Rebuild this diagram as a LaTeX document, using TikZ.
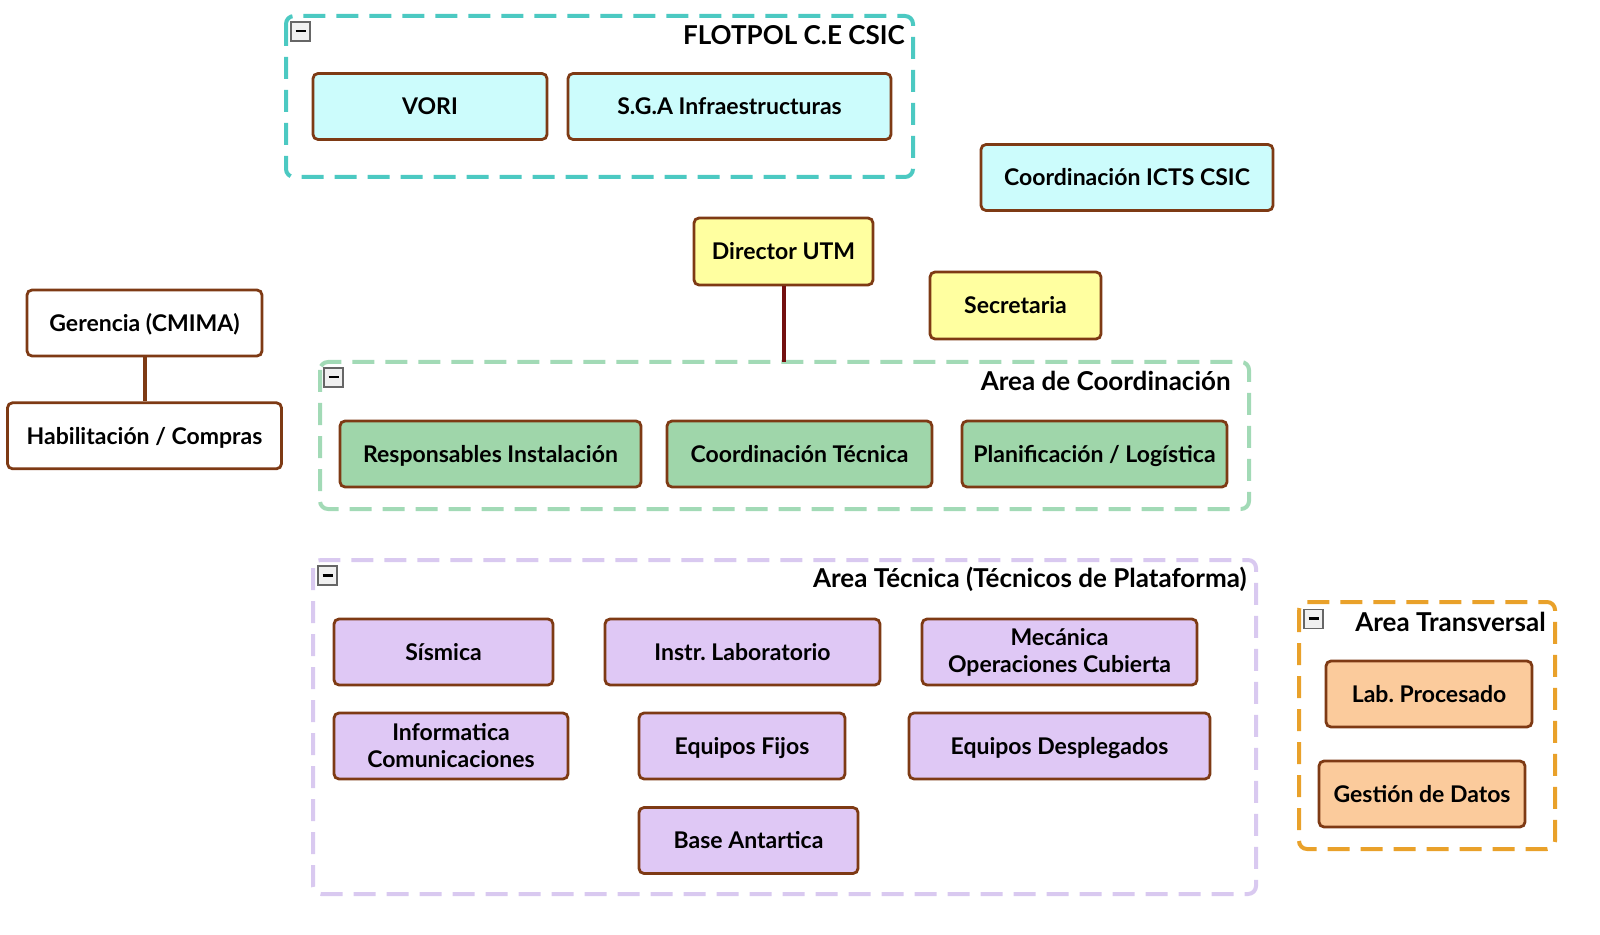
\documentclass[tikz,border=0pt]{standalone}
\usepackage{fontspec}
\setmainfont{Lato}
\frenchspacing
\usetikzlibrary{positioning}

\definecolor{borde}{HTML}{7E3A14}
\definecolor{cian}{HTML}{CCFCFC}
\definecolor{amarillo}{HTML}{FFFFA0}
\definecolor{verde}{HTML}{9FD6AA}
\definecolor{lila}{HTML}{DFC8F5}
\definecolor{naranja}{HTML}{FBCB9C}
\definecolor{marcoteal}{HTML}{4CC9C2}
\definecolor{marcoverde}{HTML}{A2DAB6}
\definecolor{marcolila}{HTML}{D9C9F0}
\definecolor{marconaranja}{HTML}{E9A12A}
\definecolor{lineadir}{HTML}{731010}

\tikzset{
	caja/.style={draw=borde, line width=1.4pt, rounded corners=2.5pt, inner sep=0pt,
		minimum height=33pt, align=center, text height=9.8pt, text depth=1.4pt,
		font=\fontsize{11.5}{13.5}\selectfont\bfseries},
	doble/.style={text height=, text depth=},
	marco/.style={line width=2pt, dash pattern=on 11pt off 5.5pt, rounded corners=4pt},
	titulo/.style={anchor=east, font=\fontsize{13}{15}\selectfont\bfseries, inner sep=0pt},
	menos/.style={draw=gray!80!black, fill=gray!12, line width=0.6pt, minimum size=9.5pt, inner sep=0pt,
		font=\bfseries, text height=1pt},
	enlace/.style={line width=2pt}
}

\begin{document}
\begin{tikzpicture}[x=0.5pt,y=-0.5pt]
	\useasboundingbox (0,0) rectangle (1600,935);

	% FLOTPOL
	\draw[marco, draw=marcoteal] (286,16) rectangle (913,177);
	\node[menos] (m1) at (300.5,31.5) {\rule{5pt}{1.3pt}};
	\node[titulo] (tflot) at (905,35) {FLOTPOL C.E CSIC};
	\node[caja, fill=cian, minimum width=117pt] (vori) at (430,106.5) {VORI};
	\node[caja, fill=cian, minimum width=161.5pt] (sga) at (729.5,106.5) {S.G.A Infraestructuras};

	\node[caja, fill=cian, minimum width=146pt] (icts) at (1127,177.5) {Coordinación ICTS CSIC};

	\node[caja, fill=amarillo, minimum width=89.5pt, minimum height=33.5pt] (director) at (783.5,251.5) {Director UTM};
	\node[caja, fill=amarillo, minimum width=85.5pt, minimum height=33.5pt] (secretaria) at (1015.5,305.5) {Secretaria};

	\node[caja, fill=white, minimum width=117.5pt] (gerencia) at (144.5,323) {Gerencia (CMIMA)};
	\node[caja, fill=white, minimum width=137pt, below=22pt of gerencia] (habilitacion) {Habilitación / Compras};
	\draw[enlace, draw=borde] (gerencia) -- (habilitacion);

	% Area de Coordinacion
	\draw[marco, draw=marcoverde] (320,362) rectangle (1249,509);
	\coordinate (coordtop) at (783.5,362);
	\draw[enlace, draw=lineadir] (director) -- (coordtop);
	\node[menos] (m2) at (333.5,377.5) {\rule{5pt}{1.3pt}};
	\node[titulo] (tcoord) at (1231,381) {Area de Coordinación};
	\node[caja, fill=verde, minimum width=150.5pt] (resp) at (490.5,454) {Responsables Instalación};
	\node[caja, fill=verde, minimum width=132.5pt] (coordtec) at (799.5,454) {Coordinación Técnica};
	\node[caja, fill=verde, minimum width=132.5pt] (planif) at (1094.5,454) {Planificación / Logística};

	% Area Tecnica
	\draw[marco, draw=marcolila] (313,560) rectangle (1256,894);
	\node[menos] (m3) at (327.5,575.5) {\rule{5pt}{1.3pt}};
	\node[titulo] (ttec) at (1247,579) {Area Técnica (Técnicos de Plataforma)};
	\node[caja, fill=lila, minimum width=109.5pt] (sismica) at (443.5,652) {Sísmica};
	\node[caja, fill=lila, minimum width=137.5pt] (instr) at (742.5,652) {Instr. Laboratorio};
	\node[caja, doble, fill=lila, minimum width=137.5pt] (mecanica) at (1059.5,652) {Mecánica\\Operaciones Cubierta};
	\node[caja, doble, fill=lila, minimum width=117pt] (informatica) at (451,746) {Informatica\\Comunicaciones};
	\node[caja, fill=lila, minimum width=103pt] (fijos) at (742,746) {Equipos Fijos};
	\node[caja, fill=lila, minimum width=150.5pt] (desplegados) at (1059.5,746) {Equipos Desplegados};
	\node[caja, fill=lila, minimum width=109.5pt] (antartica) at (748.5,840.5) {Base Antartica};

	% Area Transversal
	\draw[marco, draw=marconaranja] (1299,602) rectangle (1555,849);
	\node[menos] (m4) at (1313.5,619) {\rule{5pt}{1.3pt}};
	\node[titulo] (ttrans) at (1546,622) {Area Transversal};
	\node[caja, fill=naranja, minimum width=103pt] (labproc) at (1429,694) {Lab. Procesado};
	\node[caja, fill=naranja, minimum width=103pt] (gestion) at (1422,794) {Gestión de Datos};
\end{tikzpicture}
\end{document}
